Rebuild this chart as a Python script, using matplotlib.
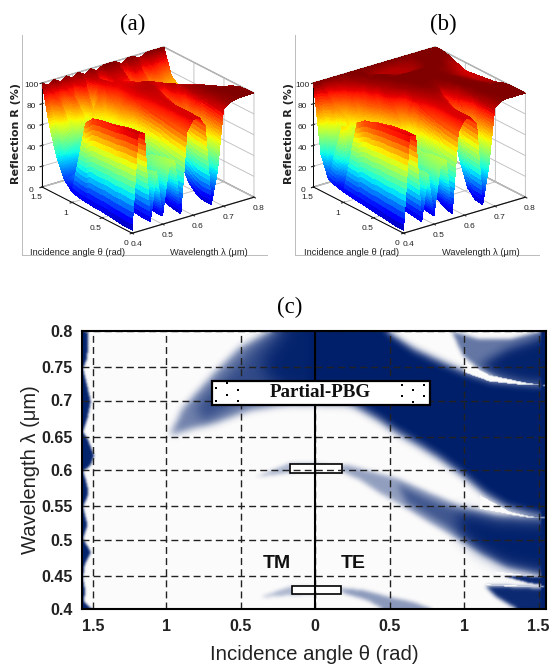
import numpy as np
import matplotlib
matplotlib.use('Agg')
import matplotlib.pyplot as plt
import matplotlib.tri as mtri
from matplotlib.colors import LinearSegmentedColormap
from matplotlib.lines import Line2D
from matplotlib.path import Path

plt.rcParams['font.family'] = ['Liberation Sans', 'DejaVu Sans']

# Surface tables: reflection (%) (a) and (b)
wavelength = [0.40, 0.42, 0.44, 0.46, 0.48, 0.50, 0.52, 0.54, 0.56, 0.58, 0.60,
              0.62, 0.64, 0.66, 0.68, 0.70, 0.72, 0.74, 0.76, 0.78, 0.80]
angle = [0, 0.125, 0.25, 0.375, 0.5, 0.625, 0.75, 0.875, 1.0, 1.125, 1.25, 1.375, 1.5]

refl_a = [
    [3, 94, 92, 6, 52, 8, 52, 57, 5, 82, 92, 92, 82, 5, 35, 93, 98, 99, 100, 100, 100],
    [3, 93, 91, 6, 50, 8, 52, 56, 6, 83, 92, 92, 83, 5, 40, 94, 98, 99, 100, 100, 100],
    [4, 92, 90, 7, 48, 10, 50, 54, 8, 84, 92, 92, 84, 8, 50, 95, 98, 100, 100, 100, 99],
    [5, 90, 88, 8, 42, 12, 46, 52, 12, 85, 92, 92, 85, 15, 65, 96, 99, 100, 99, 97, 96],
    [6, 89, 86, 10, 36, 15, 42, 48, 20, 86, 92, 93, 87, 30, 78, 97, 99, 98, 96, 93, 90],
    [6, 88, 84, 12, 30, 18, 36, 42, 35, 87, 92, 93, 90, 55, 88, 97, 96, 95, 92, 90, 87],
    [7, 86, 78, 14, 25, 20, 32, 42, 55, 88, 93, 94, 93, 80, 94, 95, 93, 91, 88, 86, 84],
    [8, 78, 60, 16, 22, 22, 30, 45, 70, 90, 94, 95, 95, 92, 94, 92, 89, 86, 84, 83, 82],
    [10, 25, 18, 18, 20, 25, 35, 55, 78, 90, 93, 94, 95, 94, 91, 86, 82, 79, 77, 76, 76],
    [18, 20, 22, 25, 28, 35, 45, 65, 82, 90, 92, 92, 91, 88, 84, 78, 74, 72, 72, 72, 72],
    [35, 38, 42, 46, 52, 60, 70, 82, 90, 92, 92, 90, 88, 84, 80, 76, 72, 71, 70, 70, 70],
    [62, 62, 80, 60, 85, 62, 90, 66, 94, 72, 95, 95, 95, 72, 93, 92, 72, 88, 84, 80, 76],
    [100, 96, 100, 96, 100, 96, 100, 96, 100, 96, 100, 100, 100, 96, 100, 100, 96, 100, 100, 100, 100],
]

refl_b = [
    [3, 92, 90, 6, 50, 8, 52, 58, 5, 82, 92, 92, 84, 5, 40, 95, 99, 100, 100, 100, 100],
    [3, 91, 90, 7, 50, 9, 52, 57, 7, 83, 92, 92, 85, 6, 48, 96, 99, 100, 100, 100, 100],
    [4, 90, 89, 8, 48, 12, 50, 56, 12, 84, 92, 92, 86, 14, 65, 97, 100, 100, 100, 100, 100],
    [5, 89, 88, 10, 45, 16, 48, 54, 22, 85, 92, 93, 88, 35, 82, 98, 100, 100, 100, 100, 99],
    [6, 88, 86, 14, 42, 22, 46, 55, 38, 87, 93, 95, 92, 65, 92, 99, 100, 100, 99, 97, 96],
    [7, 86, 84, 18, 40, 30, 48, 60, 60, 90, 95, 97, 97, 88, 97, 100, 100, 99, 97, 95, 95],
    [8, 84, 78, 24, 40, 40, 55, 72, 80, 94, 97, 99, 99, 98, 99, 100, 100, 98, 96, 94, 94],
    [9, 78, 62, 30, 44, 50, 68, 86, 92, 97, 99, 100, 100, 100, 100, 100, 99, 97, 95, 93, 93],
    [10, 25, 30, 40, 52, 65, 82, 94, 97, 99, 100, 100, 100, 100, 100, 100, 99, 98, 96, 94, 92],
    [12, 68, 66, 58, 70, 82, 92, 97, 99, 100, 100, 100, 100, 100, 100, 100, 100, 100, 98, 96, 95],
    [15, 22, 40, 70, 85, 92, 97, 99, 100, 100, 98, 96, 95, 95, 96, 98, 100, 100, 100, 99, 98],
    [35, 60, 80, 90, 95, 98, 99, 100, 98, 96, 95, 95, 95, 96, 97, 98, 100, 100, 100, 100, 100],
    [100, 100, 100, 100, 100, 100, 100, 100, 100, 100, 100, 100, 100, 100, 100, 100, 100, 100, 100, 100, 100],
]

wave_ticks = [0.4, 0.5, 0.6, 0.7, 0.8]
angle_ticks = [0, 0.5, 1, 1.5]
refl_ticks = [0, 20, 40, 60, 80, 100]

# Panel (c) ticks, the grid in the figure is not quite even
map_xticks = [-1.49, -1, -0.5, 0, 0.5, 1, 1.5]
map_xlabels = ['1.5', '1', '0.5', '0', '0.5', '1', '1.5']
map_yticks = [0.4, 0.4475, 0.5, 0.5475, 0.6, 0.6475, 0.7, 0.7475, 0.8]
map_ylabels = ['0.4', '0.45', '0.5', '0.55', '0.6', '0.65', '0.7', '0.75', '0.8']

# Band outlines of panel (c): angle, wavelength
main_th = [-0.973, -0.886, -0.685, -0.503, -0.322, -0.282, 0.49, 0.503, 0.658, 0.839, 0.987, 1.174, 1.376, 1.55,
           1.55, 1.49, 1.309, 1.154, 0.993, 0.839, 0.705, 0.523, 0.436, 0.235, 0, -0.215, -0.436, -0.658, -0.819]
main_wl = [0.650, 0.689, 0.737, 0.776, 0.797, 0.8, 0.8, 0.794, 0.776, 0.758, 0.744, 0.730, 0.724, 0.721,
           0.532, 0.532, 0.542, 0.561, 0.590, 0.614, 0.632, 0.655, 0.669, 0.694, 0.696, 0.694, 0.686, 0.669, 0.660]
main_mid_th = [-0.8, -0.6, -0.42, -0.25, 0.3, 0.3, -0.15, -0.5, -0.75]
main_mid_wl = [0.69, 0.735, 0.775, 0.8, 0.8, 0.7, 0.705, 0.70, 0.67]
main_left_th = [-0.35, -0.2, 0.05, 0.05, -0.2, -0.35]
main_left_wl = [0.76, 0.8, 0.8, 0.71, 0.715, 0.74]
main_core_th = [-0.05, 0.47, 0.66, 0.84, 0.99, 1.18, 1.38, 1.55, 1.55, 1.3, 1.15, 0.99, 0.84, 0.7, 0.52, 0.43, 0.23, 0, -0.05]
main_core_wl = [0.8, 0.8, 0.771, 0.753, 0.739, 0.726, 0.722, 0.72, 0.535, 0.549, 0.568, 0.597, 0.621, 0.64, 0.663, 0.677, 0.702, 0.706, 0.706]

corner_th = [0.919, 0.993, 1.087, 1.242, 1.396, 1.55, 1.55, 1.477, 1.309, 1.107, 0.973]
corner_wl = [0.799, 0.765, 0.748, 0.732, 0.725, 0.722, 0.8, 0.797, 0.788, 0.788, 0.796]
corner_core_th = [1.1, 1.25, 1.4, 1.55, 1.55, 1.45, 1.3]
corner_core_wl = [0.75, 0.735, 0.727, 0.724, 0.795, 0.785, 0.775]

band_th = [0.101, 0.215, 0.389, 0.55, 0.772, 0.993, 1.221, 1.49, 1.55,
           1.55, 1.53, 1.289, 1.107, 0.953, 0.772, 0.617, 0.436, 0.302, 0.168]
band_wl = [0.604, 0.607, 0.597, 0.588, 0.567, 0.547, 0.535, 0.531, 0.531,
           0.449, 0.449, 0.460, 0.481, 0.502, 0.524, 0.545, 0.567, 0.586, 0.600]
band_core_th = [0.55, 0.772, 0.993, 1.221, 1.55, 1.55, 1.289, 1.107, 0.953, 0.772, 0.617]
band_core_wl = [0.58, 0.558, 0.54, 0.53, 0.527, 0.453, 0.466, 0.488, 0.51, 0.533, 0.553]
band_dark_th = [0.95, 1.221, 1.55, 1.55, 1.289, 1.107, 0.97]
band_dark_wl = [0.54, 0.526, 0.523, 0.452, 0.464, 0.485, 0.51]

wedge_th = [1.262, 1.55, 1.55, 1.443, 1.309]
wedge_wl = [0.448, 0.446, 0.435, 0.437, 0.445]
lowband_th = [1.141, 1.262, 1.53, 1.55, 1.55, 1.356, 1.221]
lowband_wl = [0.433, 0.433, 0.430, 0.430, 0.4, 0.4, 0.417]

te_low_th = [0.168, 0.322, 0.503, 0.658, 0.785, 0.456, 0.349, 0.188]
te_low_wl = [0.430, 0.427, 0.417, 0.410, 0.4, 0.4, 0.413, 0.423]
tm_low_th = [-0.369, -0.168, 0.0, 0.0, -0.168]
tm_low_wl = [0.417, 0.432, 0.432, 0.422, 0.42]
tm_mid_th = [-0.4, -0.168, 0.0, 0.168, 0.168, 0.0, -0.168]
tm_mid_wl = [0.59, 0.61, 0.61, 0.606, 0.598, 0.598, 0.596]

edge_th = [-1.6, -1.523, -1.528, -1.559, -1.535, -1.505, -1.528, -1.557, -1.523, -1.483, -1.505, -1.557, -1.528,
           -1.523, -1.557, -1.528, -1.55, -1.559, -1.505, -1.546, -1.559, -1.541, -1.555, -1.496, -1.6]
edge_wl = [0.8, 0.799, 0.761, 0.746, 0.727, 0.698, 0.674, 0.655, 0.643, 0.621, 0.607, 0.598, 0.578,
           0.564, 0.547, 0.521, 0.506, 0.502, 0.482, 0.463, 0.444, 0.425, 0.411, 0.4, 0.4]
strip_th = [1.515, 1.6, 1.6, 1.515]
strip_wl = [0.8, 0.8, 0.4, 0.4]

# White gaps where the bands nearly touch on the right
tip1_th = [0.99, 1.174, 1.396, 1.55, 1.396, 1.174, 0.99]
tip1_wl = [0.759, 0.737, 0.7266, 0.7215, 0.7222, 0.727, 0.741]
tip2_th = [1.1, 1.309, 1.45, 1.55, 1.45, 1.309, 1.1]
tip2_wl = [0.566, 0.541, 0.5335, 0.5315, 0.5305, 0.535, 0.543]
tip3_th = [1.2, 1.4, 1.55, 1.4, 1.2]
tip3_wl = [0.456, 0.4505, 0.4485, 0.4475, 0.448]
tip4_th = [1.14, 1.45, 1.55, 1.45, 1.14]
tip4_wl = [0.437, 0.4345, 0.4325, 0.4315, 0.433]

# Dots inside the Partial-PBG box
dots_th = [-0.664, -0.591, -0.517, -0.664, -0.591, -0.517, 0.584, 0.732, 0.658, 0.584, 0.732, 0.658]
dots_wl = [0.718, 0.725, 0.715, 0.699, 0.708, 0.699, 0.722, 0.722, 0.715, 0.706, 0.706, 0.698]

fig = plt.figure(figsize=(5.52, 6.64), dpi=100)


def px_rect(left, top, w, h):
    return [left / 552, 1 - (top + h) / 664, w / 552, h / 664]


def surface_panel(left, top, table):
    ax = fig.add_axes(px_rect(left, top, 234.5, 234.5), projection='3d', proj_type='ortho')
    ax.patch.set_alpha(0)
    ax.view_init(elev=22.9, azim=232.8)
    ax.set_box_aspect((153, 149, 113))

    lam, th = np.meshgrid(wavelength, angle)
    z = np.array(table, dtype=float).ravel()
    tri = mtri.Triangulation(lam.ravel(), th.ravel())
    refiner = mtri.UniformTriRefiner(tri)
    fine, zfine = refiner.refine_field(z, triinterpolator=mtri.LinearTriInterpolator(tri, z), subdiv=4)
    ax.plot_trisurf(fine, zfine, cmap='jet', vmin=0, vmax=100, linewidth=0, antialiased=False, shade=False)

    ax.set_xlim(0.4, 0.8)
    ax.set_ylim(0, 1.5)
    ax.set_zlim(0, 100)
    ax.set_xticks(wave_ticks)
    ax.set_xticklabels(['0.4', '0.5', '0.6', '0.7', '0.8'])
    ax.set_yticks(angle_ticks)
    ax.set_yticklabels(['0', '0.5', '1', '1.5'])
    ax.set_zticks(refl_ticks)
    ax.tick_params(labelsize=6, pad=-3.5, colors='#222222')
    for axis in (ax.xaxis, ax.yaxis, ax.zaxis):
        axis.set_pane_color((1, 1, 1, 1))
        axis.pane.set_edgecolor('#999999')
        axis._axinfo['grid']['color'] = '#bbbbbb'
        axis._axinfo['grid']['linewidth'] = 0.6
        axis.line.set_color('black')
        axis.line.set_linewidth(0.7)
    return ax


surface_panel(27.6, 26, refl_a)
surface_panel(299, 26, refl_b)

# Thin frame left over from the pasted plots
for x0, x1, y0, y1 in [(22, 22, 35, 255), (22, 267, 255, 255), (295, 295, 35, 255), (295, 539, 255, 255)]:
    fig.add_artist(Line2D([x0 / 552, x1 / 552], [1 - y0 / 664, 1 - y1 / 664], color='#bbbbbb', lw=0.7))

for x, y, s in [(133, 24, '(a)'), (443, 24, '(b)'), (290, 307, '(c)')]:
    fig.text(x / 552, 1 - y / 664, s, family='Liberation Serif', fontsize=16.5, ha='center', va='center')

for x, s in [(78, 'Incidence angle \u03b8 (rad)'), (209, 'Wavelength \u03bb (\u03bcm)'),
             (351, 'Incidence angle \u03b8 (rad)'), (481, 'Wavelength \u03bb (\u03bcm)')]:
    fig.text(x / 552, 1 - 252 / 664, s, fontsize=6.7, ha='center', va='center', color='#222222')

for x in [16, 289]:
    fig.text(x / 552, 1 - 133 / 664, 'Reflection R (%)', family='DejaVu Sans', fontweight='bold', fontsize=8,
             rotation=90, ha='center', va='center', color='#222222')

# Panel (c)
ax = fig.add_axes(px_rect(82, 331, 464, 278))
ax.set_xlim(-1.564, 1.55)
ax.set_ylim(0.4, 0.8)

nx, ny = 464, 278
gx = -1.564 + (np.arange(nx) + 0.5) * (1.55 + 1.564) / nx
gy = 0.4 + (np.arange(ny) + 0.5) * 0.4 / ny
grid_pts = np.column_stack([a.ravel() for a in np.meshgrid(gx, gy)])


def soft_mask(th, wl, sigma):
    # outline to pixel mask, then a small gaussian to fade its edge
    mask = Path(np.column_stack([th, wl])).contains_points(grid_pts).reshape(ny, nx).astype(float)
    r = int(3 * sigma) + 1
    kern = np.exp(-0.5 * (np.arange(-r, r + 1) / sigma) ** 2)
    kern /= kern.sum()
    mask = np.pad(mask, r, mode='edge')
    mask = np.apply_along_axis(np.convolve, 0, mask, kern, mode='same')
    mask = np.apply_along_axis(np.convolve, 1, mask, kern, mode='same')
    return mask[r:-r, r:-r]


layers = [
    (main_th, main_wl, 0.55, 3.5),
    (main_mid_th, main_mid_wl, 0.55, 6),
    (main_left_th, main_left_wl, 0.9, 8),
    (main_core_th, main_core_wl, 1.0, 3.5),
    (corner_th, corner_wl, 0.6, 2),
    (corner_core_th, corner_core_wl, 0.95, 5),
    (band_th, band_wl, 0.42, 2.5),
    (band_core_th, band_core_wl, 0.55, 3.5),
    (band_dark_th, band_dark_wl, 0.95, 7),
    (wedge_th, wedge_wl, 0.95, 1),
    (lowband_th, lowband_wl, 0.95, 2),
    (te_low_th, te_low_wl, 0.45, 2),
    (tm_low_th, tm_low_wl, 0.32, 2),
    (tm_mid_th, tm_mid_wl, 0.32, 2),
    (edge_th, edge_wl, 0.98, 1.2),
    (strip_th, strip_wl, 1.0, 1),
]
clear = np.ones((ny, nx))
for th, wl, strength, sigma in layers:
    clear *= 1 - strength * soft_mask(th, wl, sigma)
for th, wl in [(tip1_th, tip1_wl), (tip2_th, tip2_wl), (tip3_th, tip3_wl), (tip4_th, tip4_wl)]:
    clear = np.maximum(clear, soft_mask(th, wl, 0.7))

band_cmap = LinearSegmentedColormap.from_list('band', ['#fbfbfb', '#001f6b'])
ax.imshow(1 - clear, origin='lower', extent=[-1.564, 1.55, 0.4, 0.8], aspect='auto', cmap=band_cmap,
          vmin=0, vmax=1, interpolation='bilinear', zorder=1)

ax.set_xticks(map_xticks)
ax.set_xticklabels(map_xlabels)
ax.set_yticks(map_yticks)
ax.set_yticklabels(map_ylabels)
ax.tick_params(length=0, labelsize=11.5, pad=7, colors='#222222')
for lab in ax.get_xticklabels() + ax.get_yticklabels():
    lab.set_fontweight('bold')
ax.grid(True, color='#222222', lw=1.0, linestyle=(0, (5, 3)), zorder=2)
ax.set_axisbelow(False)
ax.axvline(0, color='black', lw=1.5, zorder=3)
for spine in ax.spines.values():
    spine.set_linewidth(1.5)
    spine.set_zorder(6)

ax.set_xlabel('Incidence angle \u03b8 (rad)', fontsize=14.7, labelpad=8, color='#222222')
ax.set_ylabel('Wavelength \u03bb (\u03bcm)', fontsize=14.5, labelpad=1, color='#222222')

ax.fill([-0.691, 0.772, 0.772, -0.691], [0.6935, 0.6935, 0.7281, 0.7281], fc='white', ec='black', lw=1.6, zorder=4)
ax.scatter(dots_th, dots_wl, s=4, marker='s', color='black', lw=0, zorder=5)
ax.text(0.037, 0.7108, 'Partial-PBG', family='Liberation Serif', fontweight='bold', fontsize=13.7,
        ha='center', va='center', color='#111111', zorder=5)

ax.fill([-0.168, 0.181, 0.181, -0.168], [0.596, 0.596, 0.609, 0.609], fc='white', ec='black', lw=1.2, zorder=2.5)
ax.fill([-0.154, 0.174, 0.174, -0.154], [0.4216, 0.4216, 0.433, 0.433], fc='white', ec='black', lw=1.2, zorder=2.5)

ax.text(-0.255, 0.465, 'TM', fontsize=14, fontweight='bold', ha='center', va='center', color='#111111', zorder=5)
ax.text(0.258, 0.465, 'TE', fontsize=14, fontweight='bold', ha='center', va='center', color='#111111', zorder=5)

fig.savefig('out.png', dpi=100)
